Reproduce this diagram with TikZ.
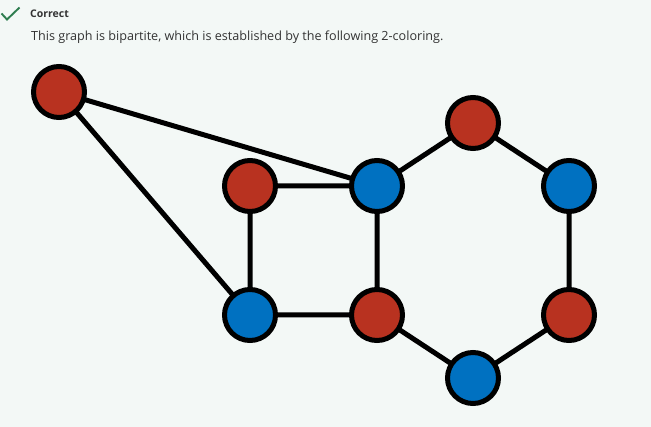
\documentclass[tikz,border=0pt]{standalone}
\usepackage{fontspec}
\setmainfont{Open Sans}
\definecolor{bg}{HTML}{F3F8F6}
\definecolor{nred}{HTML}{B83220}
\definecolor{nblue}{HTML}{0071C1}
\definecolor{chk}{HTML}{2E7D4F}
\definecolor{txt}{HTML}{333333}
\tikzset{
  vtx/.style={circle, draw=black, line width=5pt, minimum size=51pt, inner sep=0pt},
  rv/.style={vtx, fill=nred},
  bv/.style={vtx, fill=nblue},
  edge/.style={line width=5pt, draw=black}
}
\begin{document}
\begin{tikzpicture}[x=1pt,y=-1pt]
\fill[bg] (0,0) rectangle (651,427);
\useasboundingbox (0,0) rectangle (651,427);
\draw[chk, line width=1.9pt] (1.5,13.5) -- (7,19.5) -- (19.5,7.5);
\node[anchor=west, inner sep=0pt, text=txt, font=\fontsize{10.5}{12}\selectfont\bfseries] (hd) at (30,14) {Correct};
\node[anchor=west, inner sep=0pt, text=txt, font=\fontsize{12.6}{15}\selectfont] (msg) at (31,37) {This graph is bipartite, which is established by the following 2-coloring.};
\coordinate (pA) at (59,92);
\coordinate (pB) at (250,186);
\coordinate (pC) at (377,186);
\coordinate (pD) at (473,123);
\coordinate (pE) at (569,186);
\coordinate (pF) at (250,315);
\coordinate (pG) at (377,315);
\coordinate (pH) at (569,315);
\coordinate (pI) at (473,378);
\draw[edge] (pA) -- (pC) (pA) -- (pF) (pB) -- (pC) (pB) -- (pF) (pC) -- (pG) (pF) -- (pG) (pC) -- (pD) (pD) -- (pE) (pE) -- (pH) (pH) -- (pI) (pI) -- (pG);
\node[rv] (A) at (pA) {};
\node[rv] (B) at (pB) {};
\node[bv] (C) at (pC) {};
\node[rv] (D) at (pD) {};
\node[bv] (E) at (pE) {};
\node[bv] (F) at (pF) {};
\node[rv] (G) at (pG) {};
\node[rv] (H) at (pH) {};
\node[bv] (I) at (pI) {};
\end{tikzpicture}
\end{document}
